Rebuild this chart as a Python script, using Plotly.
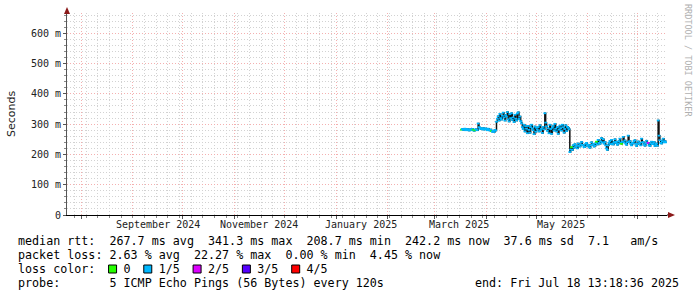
import plotly.graph_objects as go
import pandas as pd

# ---------------- data ----------------
range_end = "2025-07-18 13:18:36"
range_start = "2024-07-23 13:18:36"
series_start = "2025-03-17 06:00:00"
sample_step = "12h"

median_rtt_ms = [
    # mid/late March
    282, 284, 281, 283, 285, 280, 282, 284, 281, 279, 283, 281, 280, 284, 281, 278, 280, 283, 282, 280,
    302, 290, 288, 284, 286, 283, 287, 282, 284, 286, 283, 280, 285, 281, 279, 282, 277, 275, 278, 274, 281, 279,
    # April high plateau
    308, 318, 326, 312, 334, 320, 315, 328, 338, 322, 312, 330, 325, 340, 316, 309, 333, 320, 336, 314,
    322, 307, 331, 318, 312, 335, 339, 317, 325, 310,
    303, 290, 284, 298, 276, 293, 285, 270, 294, 281, 272, 290, 298, 286, 280, 267, 292, 275, 288, 282,
    290, 276, 296, 280, 285, 271, 291, 283, 336, 305, 293, 278, 286, 270, 298, 284, 268, 288, 294, 279,
    301, 285, 276, 290, 268, 282, 295, 287, 279, 298, 290, 272, 284, 296, 277, 291, 288, 283,
    # late May drop
    208, 216, 224, 215, 230, 222, 234, 226, 228, 220, 236, 229, 226, 233, 241, 232, 230, 224, 226, 235,
    238, 229, 232, 224, 222, 230, 240, 232, 234, 226, 229, 237, 242, 233, 248, 238, 235, 243, 254, 240,
    250, 236, 241, 230, 220, 215, 230, 238, 244, 234, 248, 236, 233, 241, 250, 238, 242, 232, 236, 244,
    252, 238, 235, 242, 258, 240, 246, 236, 232, 240,
    262, 242, 244, 235, 230, 238, 236, 244, 247, 236, 228, 234, 243, 236, 238, 230, 252, 240, 240, 233,
    229, 236, 245, 238, 238, 230, 228, 236, 242, 234, 236, 241, 228, 234, 236, 229, 312, 262, 247, 238,
    236, 244, 252, 240, 244, 240,
]
# loss level per sample (number of lost pings out of 5)
loss_level = [1] * len(median_rtt_ms)
for i in (0, 14, 16, 36, 132, 162, 192):
    loss_level[i] = 0
loss_level[224] = 2

loss_colors = ["#26ff00", "#00b8ff", "#dd00ff", "#5500ff", "#ff0000"]
loss_labels = ["0", "1/5", "2/5", "3/5", "4/5"]

y_tick_vals = [0, 100, 200, 300, 400, 500, 600]
y_tick_text = ["0", "100 m", "200 m", "300 m", "400 m", "500 m", "600 m"]

month_label_dates = ["2024-09-16", "2024-11-16", "2025-01-16", "2025-03-16", "2025-05-16"]
month_label_text = ["September 2024", "November 2024", "January 2025", "March 2025", "May 2025"]

legend_lines = [
    "median rtt:  267.7 ms avg  341.3 ms max  208.7 ms min  242.2 ms now  37.6 ms sd  7.1   am/s",
    "packet loss: 2.63 % avg  22.27 % max  0.00 % min  4.45 % now",
    "loss color:    0    1/5    2/5    3/5    4/5",
    "probe:       5 ICMP Echo Pings (56 Bytes) every 120s",
]
end_text = "end: Fri Jul 18 13:18:36 2025"

# ---------------- geometry ----------------
W, H = 697, 297
L, R, T, B = 67, 30, 13, 82
PW, PH = W - L - R, H - T - B
PLOT_BOTTOM = T + PH


def px(x):
    return (x - L) / PW


def py(y):
    return (PLOT_BOTTOM - y) / PH


dates = pd.date_range(series_start, periods=len(median_rtt_ms), freq=sample_step)
month_starts = pd.date_range("2024-08-01", "2025-07-01", freq="MS")
week_starts = pd.date_range("2024-07-28", "2025-07-18", freq="7D")

fig = go.Figure()
fig.add_trace(go.Scatter(
    x=dates, y=median_rtt_ms, mode="lines",
    line=dict(color="#111111", width=1.5, shape="hv"),
    hoverinfo="skip", showlegend=False,
))
fig.add_trace(go.Scatter(
    x=dates, y=median_rtt_ms, mode="markers",
    marker=dict(symbol="line-ew", size=2,
                line=dict(width=1.8, color=[loss_colors[k] for k in loss_level])),
    hoverinfo="skip", showlegend=False,
))

mono = "DejaVu Sans Mono"
FS = 11.7
annotations = []
for d, t in zip(month_label_dates, month_label_text):
    annotations.append(dict(x=d, xref="x", y=py(224), yref="paper", text=t,
                            showarrow=False, xanchor="center", yanchor="middle",
                            font=dict(family=mono, size=10, color="#222")))
line_y = [241, 255, 269, 283]
for t, yy in zip(legend_lines, line_y):
    annotations.append(dict(x=px(16), xref="paper", y=py(yy), yref="paper",
                            text=t.replace(" ", "\u00a0"), showarrow=False,
                            xanchor="left", yanchor="middle",
                            font=dict(family=mono, size=FS, color="#000")))
annotations.append(dict(x=px(681), xref="paper", y=py(283), yref="paper",
                        text=end_text.replace(" ", "\u00a0"), showarrow=False,
                        xanchor="right", yanchor="middle",
                        font=dict(family=mono, size=FS, color="#000")))
annotations.append(dict(x=px(11), xref="paper", y=py(114), yref="paper",
                        text="Seconds", textangle=-90, showarrow=False,
                        xanchor="center", yanchor="middle",
                        font=dict(family="DejaVu Sans", size=11, color="#222")))
annotations.append(dict(x=px(688), xref="paper", y=py(60), yref="paper",
                        text="RRDTOOL / TOBI OETIKER".replace(" ", "\u00a0"), textangle=90,
                        showarrow=False, xanchor="center", yanchor="middle",
                        font=dict(family=mono, size=8.5, color="#b0b0b0")))

shapes = []
char_w = FS * 0.602
for k, ci in enumerate([13, 18, 25, 32, 39]):
    x0 = 16 + ci * char_w + 1
    shapes.append(dict(type="rect", xref="paper", yref="paper",
                       x0=px(x0), x1=px(x0 + 8), y0=py(273), y1=py(265),
                       fillcolor=loss_colors[k], line=dict(color="#000", width=1)))
arrow_c = "#8b1a1a"
shapes.append(dict(type="path", xref="paper", yref="paper",
                   path=f"M {px(64)} {py(14)} L {px(70)} {py(14)} L {px(67)} {py(7)} Z",
                   fillcolor=arrow_c, line=dict(color=arrow_c, width=0)))
shapes.append(dict(type="line", xref="paper", yref="paper",
                   x0=px(667), x1=px(670), y0=py(215), y1=py(215),
                   line=dict(color="#000", width=1)))
shapes.append(dict(type="path", xref="paper", yref="paper",
                   path=f"M {px(668)} {py(212)} L {px(668)} {py(218)} L {px(675)} {py(215)} Z",
                   fillcolor=arrow_c, line=dict(color=arrow_c, width=0)))

fig.update_layout(
    width=W, height=H,
    margin=dict(l=L, r=R, t=T, b=B, pad=0),
    paper_bgcolor="white", plot_bgcolor="white",
    annotations=annotations, shapes=shapes,
    xaxis=dict(
        type="date", range=[range_start, range_end],
        tickvals=list(month_starts), ticktext=[""] * len(month_starts),
        showgrid=True, gridcolor="#f4b0b0", griddash="1px,2px", gridwidth=1,
        ticks="outside", ticklen=3, tickcolor="#555",
        minor=dict(tickvals=list(week_starts), showgrid=True, gridcolor="#d2d2d2",
                   griddash="1px,2px", ticks="outside", ticklen=2, tickcolor="#888"),
        showline=True, linecolor="#000", linewidth=1, zeroline=False,
        fixedrange=True,
    ),
    yaxis=dict(
        range=[0, 667], tickvals=y_tick_vals, ticktext=y_tick_text,
        tickfont=dict(family=mono, size=10, color="#222"),
        showgrid=True, gridcolor="#f4b0b0", griddash="1px,2px", gridwidth=1,
        ticks="outside", ticklen=3, tickcolor="#555",
        minor=dict(dtick=20, showgrid=True, gridcolor="#d2d2d2", griddash="1px,2px",
                   ticks="outside", ticklen=2, tickcolor="#888"),
        showline=True, linecolor="#555", linewidth=1, zeroline=False,
        fixedrange=True,
    ),
)

fig.write_html("out.html")
